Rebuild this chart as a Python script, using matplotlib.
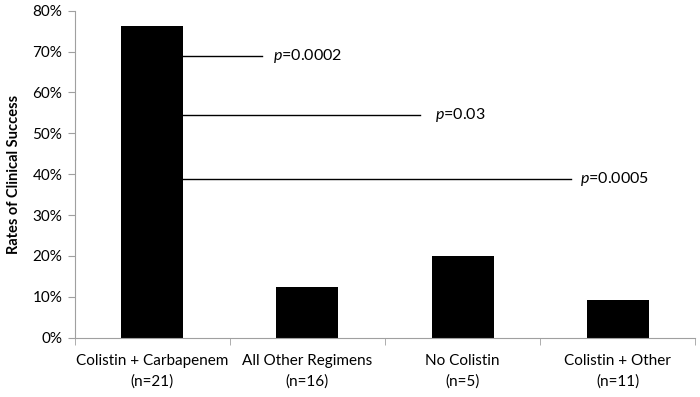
import matplotlib.pyplot as plt
import numpy as np

# Datos
categorias = ["Colistin + Carbapenem\n(n=21)", "All Other Regimens\n(n=16)",
              "No Colistin\n(n=5)", "Colistin + Other\n(n=11)"]
exito = [76.2, 12.5, 20.0, 9.1]
p_textos = ["0.0002", "0.03", "0.0005"]
p_niveles = [68.9, 54.6, 38.8]
p_fin_linea = [0.706, 1.726, 2.70]
p_x_texto = [0.777, 1.823, 2.758]

plt.rcParams['font.family'] = ['Lato', 'DejaVu Sans']
plt.rcParams['mathtext.fontset'] = 'custom'
plt.rcParams['mathtext.it'] = 'Lato:italic'
plt.rcParams['mathtext.rm'] = 'Lato'

fig = plt.figure(figsize=(7, 3.97), dpi=100)
ax = fig.add_axes([0.107, 0.1494, 0.886, 0.8236])

x = np.arange(len(categorias))
ax.bar(x, exito, width=0.4, color='black')

for nivel, fin, xt, txt in zip(p_niveles, p_fin_linea, p_x_texto, p_textos):
    ax.plot([0.2, fin], [nivel, nivel], color='black', lw=1)
    ax.text(xt, nivel, r"$\it{p}$=" + txt, va='center', ha='left', fontsize=11.5)

ax.set_xlim(-0.5, 3.5)
ax.set_ylim(0, 80)
ax.set_yticks(np.arange(0, 81, 10))
ax.set_yticklabels([f"{v}%" for v in range(0, 81, 10)], fontsize=11)
ax.set_xticks(x)
ax.set_xticklabels(categorias, fontsize=11, linespacing=1.55)
ax.tick_params(axis='x', length=0, pad=12)
ax.set_xticks(np.arange(-0.5, 3.6, 1), minor=True)
ax.tick_params(axis='x', which='minor', length=5, color='#a0a0a0', direction='out')
ax.tick_params(axis='y', length=5, color='#a0a0a0', direction='out', pad=4)
ax.set_ylabel("Rates of Clinical Success", fontsize=10.5, fontweight='bold', labelpad=8)

for s in ['top', 'right']:
    ax.spines[s].set_visible(False)
for s in ['left', 'bottom']:
    ax.spines[s].set_color('#a0a0a0')

fig.savefig("out.png", dpi=100)
